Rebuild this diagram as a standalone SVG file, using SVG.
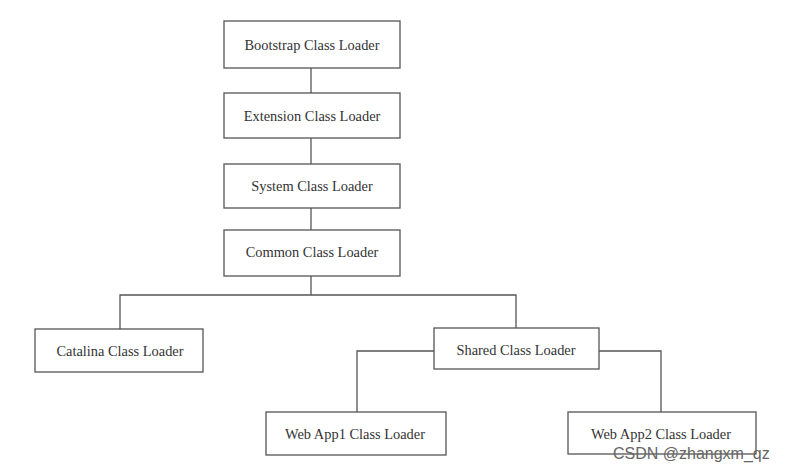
<svg xmlns="http://www.w3.org/2000/svg" width="806" height="472" viewBox="0 0 806 472">
<style>
.box{fill:#fff;stroke:#555;stroke-width:1.3}
.lbl{font-family:"Liberation Serif","Times New Roman",serif;font-size:14.4px;fill:#333;text-anchor:middle;dominant-baseline:central}
.con{fill:none;stroke:#555;stroke-width:1.3}
.wm{font-family:"Liberation Sans",Arial,sans-serif;font-size:16px;fill:#666}
</style>
<rect width="806" height="472" fill="#fff"/>
<g id="connectors">
<line class="con" x1="311" y1="68" x2="311" y2="93"/>
<line class="con" x1="311" y1="138" x2="311" y2="164"/>
<line class="con" x1="311" y1="208" x2="311" y2="230"/>
<line class="con" x1="311" y1="276" x2="311" y2="295"/>
<polyline class="con" points="120,329 120,295 516,295 516,328"/>
<polyline class="con" points="434,351 357,351 357,412"/>
<polyline class="con" points="599,351 661,351 661,412"/>
</g>
<g id="bootstrap"><rect class="box" x="224" y="21" width="176" height="47"/><text class="lbl" x="312" y="45">Bootstrap Class Loader</text></g>
<g id="extension"><rect class="box" x="224" y="93" width="176" height="45"/><text class="lbl" x="312" y="116">Extension Class Loader</text></g>
<g id="system"><rect class="box" x="224" y="164" width="176" height="44"/><text class="lbl" x="312" y="186">System Class Loader</text></g>
<g id="common"><rect class="box" x="224" y="230" width="176" height="46"/><text class="lbl" x="312" y="252">Common Class Loader</text></g>
<g id="catalina"><rect class="box" x="35" y="329" width="168" height="43"/><text class="lbl" x="120" y="351">Catalina Class Loader</text></g>
<g id="shared"><rect class="box" x="434" y="328" width="165" height="41"/><text class="lbl" x="516" y="350">Shared Class Loader</text></g>
<g id="webapp1"><rect class="box" x="266" y="412" width="180" height="43"/><text class="lbl" x="355" y="434">Web App1 Class Loader</text></g>
<g id="webapp2"><rect class="box" x="568" y="412" width="188" height="42"/><text class="lbl" x="661" y="434">Web App2 Class Loader</text></g>
<text class="wm" x="613" y="459">CSDN @zhangxm_qz</text>
</svg>
